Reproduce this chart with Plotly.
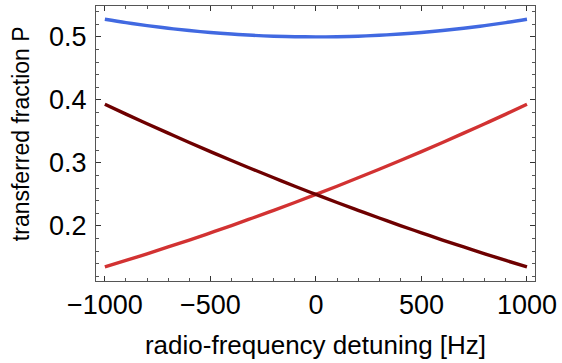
import plotly.graph_objects as go

detuning = [-1000, -900, -800, -700, -600, -500, -400, -300, -200, -100, 0,
            100, 200, 300, 400, 500, 600, 700, 800, 900, 1000]
p_blue = [0.528, 0.5227, 0.5179, 0.5137, 0.5101, 0.507, 0.5045, 0.5025, 0.5011, 0.5003, 0.500,
          0.5003, 0.5011, 0.5025, 0.5045, 0.507, 0.5101, 0.5137, 0.5179, 0.5227, 0.528]
p_red = [0.135, 0.1452, 0.1558, 0.1666, 0.1776, 0.189, 0.2006, 0.2126, 0.2248, 0.2372, 0.250,
         0.2630, 0.2764, 0.2900, 0.3038, 0.318, 0.3324, 0.3472, 0.3622, 0.3774, 0.393]
p_darkred = list(reversed(p_red))

x_ticks = [-1000, -500, 0, 500, 1000]
x_ticklabels = ["−1000", "−500", "0", "500", "1000"]
y_ticks = [0.2, 0.3, 0.4, 0.5]
y_ticklabels = ["0.2", "0.3", "0.4", "0.5"]

font = "Liberation Sans, Arial, sans-serif"
fig = go.Figure()
for ys, col in [(p_blue, "rgb(65,105,225)"), (p_red, "rgb(210,50,50)"), (p_darkred, "rgb(110,0,0)")]:
    fig.add_trace(go.Scatter(x=detuning, y=ys, mode="lines", line=dict(color=col, width=3.4, shape="spline"),
                             showlegend=False, hoverinfo="skip"))

axis_common = dict(showgrid=False, zeroline=False, showline=True, linecolor="#555", linewidth=1,
                   mirror="allticks", ticks="inside", ticklen=5, tickwidth=1, tickcolor="#333",
                   ticklabeloverflow="allow",
                   tickfont=dict(family=font, size=27, color="black"))
fig.update_xaxes(range=[-1042, 1038], tickvals=x_ticks, ticktext=x_ticklabels,
                 minor=dict(dtick=100, ticks="inside", ticklen=3, tickcolor="#555", tick0=0),
                 title=dict(text="radio-frequency detuning [Hz]", font=dict(family=font, size=26, color="black"), standoff=16),
                 **axis_common)
fig.update_yaxes(range=[0.1126, 0.549], tickvals=y_ticks, ticktext=y_ticklabels, ticklabelstandoff=3,
                 minor=dict(dtick=0.02, ticks="inside", ticklen=3, tickcolor="#555", tick0=0),
                 **axis_common)
fig.add_annotation(text="transferred fraction P", textangle=-90, showarrow=False,
                   xref="paper", yref="paper", x=0, y=0.534, xanchor="center", yanchor="middle",
                   xshift=-75, font=dict(family=font, size=23, color="black"))
fig.update_layout(width=562, height=363, margin=dict(l=96, r=20, t=5, b=82),
                  plot_bgcolor="white", paper_bgcolor="white")
fig.write_html("out.html")
